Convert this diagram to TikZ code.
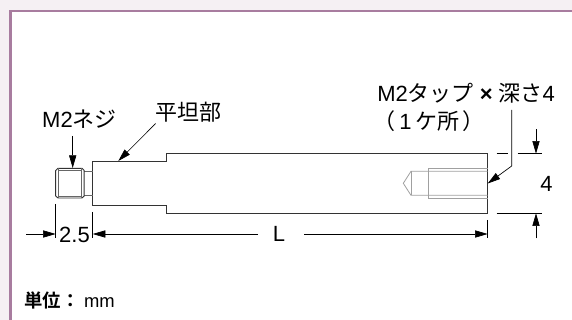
\documentclass[tikz,border=0pt]{standalone}
\usepackage{fontspec}
\setmainfont{Liberation Sans}
\newfontfamily\cjk{Noto Sans CJK JP}
\newfontfamily\cjkb{Noto Sans CJK JP Bold}
\usetikzlibrary{arrows.meta}
\definecolor{page_col}{HTML}{F5F0F3}
\definecolor{frame_col}{HTML}{A87C9F}
\definecolor{hole_col}{HTML}{A0A0A0}
\begin{document}
\begin{tikzpicture}[x=0.75pt, y=-0.75pt, >={Stealth[length=9.5pt,width=5.4pt,inset=0pt]},
    body_style/.style={draw=black!80, line width=0.7pt},
    thin_style/.style={draw=black!60, line width=0.35pt},
    hole_style/.style={draw=hole_col, line width=0.6pt},
    dim_style/.style={draw=black, line width=0.5pt},
    label_style/.style={inner sep=0pt, font=\fontsize{16.5}{20}\selectfont},
    note_style/.style={inner sep=0pt, anchor=west, font=\fontsize{13.8}{16}\selectfont}]
  \useasboundingbox (0,0) rectangle (572,320);
  % page and frame
  \fill[page_col] (0,0) rectangle (572,320);
  \fill[white] (10,11) rectangle (572,320);
  \draw[frame_col, line width=2.2pt] (10.5,320) -- (10.5,11) -- (572,11);
  % points
  \coordinate (thread_l) at (55.7,204);
  \coordinate (thread_d) at (55.7,238);
  \coordinate (shaft_l) at (92.7,212);
  \coordinate (shaft_d) at (92.7,238);
  \coordinate (shaft_r) at (487.7,220);
  \coordinate (shaft_e) at (487.7,238);
  \coordinate (dim_a) at (26,234);
  \coordinate (dim_b) at (55.7,234);
  \coordinate (dim_c) at (92.7,234);
  \coordinate (dim_d) at (487.7,234);
  \coordinate (len_a) at (258,234);
  \coordinate (len_b) at (304,234);
  \coordinate (screw_a) at (72.7,136);
  \coordinate (screw_b) at (72.7,168);
  \coordinate (flat_a) at (155.7,123.5);
  \coordinate (flat_b) at (118.3,161);
  \coordinate (tap_a) at (511.7,110);
  \coordinate (tap_m) at (511.7,166);
  \coordinate (tap_b) at (487.7,183.5);
  \coordinate (top_a) at (496.7,153.7);
  \coordinate (top_b) at (507.7,153.7);
  \coordinate (top_c) at (517.7,153.7);
  \coordinate (top_d) at (541.7,153.7);
  \coordinate (bot_a) at (496.7,213.3);
  \coordinate (bot_b) at (541.7,213.3);
  \coordinate (four_a) at (536,129.3);
  \coordinate (four_b) at (536,153.7);
  \coordinate (four_c) at (536,238.3);
  \coordinate (four_d) at (536,213.3);
  % texts
  \node[label_style] (screw_txt) at (79.5,119) {M2{\cjk ネジ}};
  \node[label_style] (flat_txt) at (188,112) {\cjk 平坦部};
  \node[label_style, anchor=west] (tap_txt) at (377,93) {M2{\cjk タップ}\hspace{4.5pt}\textbf{×}\hspace{4.5pt}{\cjk 深さ}4};
  \node[label_style, anchor=west] (once_txt) at (373,121) {{\cjk （}\hspace{3pt}1\hspace{3pt}{\cjk ケ所}\hspace{2pt}{\cjk ）}};
  \node[label_style] (two_txt) at (74.5,235) {2.5};
  \node[label_style] (len_txt) at (279,234) {L};
  \node[label_style] (four_txt) at (546.5,183.5) {4};
  \node[note_style] (unit_txt) at (24,300) {{\cjkb 単位：}\hspace{3.5pt}mm};
  % shaft
  \draw[body_style] (92.7,161.3) -- (166.7,161.3) -- (166.7,153.7) -- (487.7,153.7) -- (487.7,213.3)
    -- (166.7,213.3) -- (166.7,205.7) -- (92.7,205.7) -- cycle;
  % screw
  \draw[thin_style] (84,171) -- (92.7,171) (84,195) -- (92.7,195);
  \draw[body_style] (58,168.3) -- (82,168.3) -- (84.2,170.5) -- (84.2,196) -- (82,198) -- (58,198)
    -- (55.7,196) -- (55.7,170.5) -- cycle;
  \draw[thin_style] (58.3,168.3) -- (58.3,198) (81.7,168.3) -- (81.7,198);
  \draw[thin_style] (58.3,170.5) -- (81.7,170.5) (58.3,196) -- (81.7,196);
  % hole
  \draw[hole_style] (487.7,168.3) -- (428.3,168.3) -- (428.3,198.3) -- (487.7,198.3);
  \draw[hole_style] (487.7,171.3) -- (411,171.3) -- (403.3,183.3) -- (411,195.3) -- (487.7,195.3);
  \draw[hole_style] (411,171.3) -- (411,195.3);
  % dimensions
  \draw[dim_style] (thread_l) -- (thread_d);
  \draw[dim_style] (shaft_l) -- (shaft_d);
  \draw[dim_style] (shaft_r) -- (shaft_e);
  \draw[dim_style] (top_a) -- (top_b);
  \draw[dim_style] (top_c) -- (top_d);
  \draw[dim_style] (bot_a) -- (bot_b);
  \begin{scope}[->]
    \draw[dim_style] (dim_a) to (dim_b);
    \draw[dim_style] (len_a) to (dim_c);
    \draw[dim_style] (len_b) to (dim_d);
    \draw[dim_style] (screw_a) to (screw_b);
    \draw[dim_style] (flat_a) to (flat_b);
    \draw[dim_style] (tap_a) -- (tap_m) to (tap_b);
    \draw[dim_style] (four_a) to (four_b);
    \draw[dim_style] (four_c) to (four_d);
  \end{scope}
\end{tikzpicture}
\end{document}
